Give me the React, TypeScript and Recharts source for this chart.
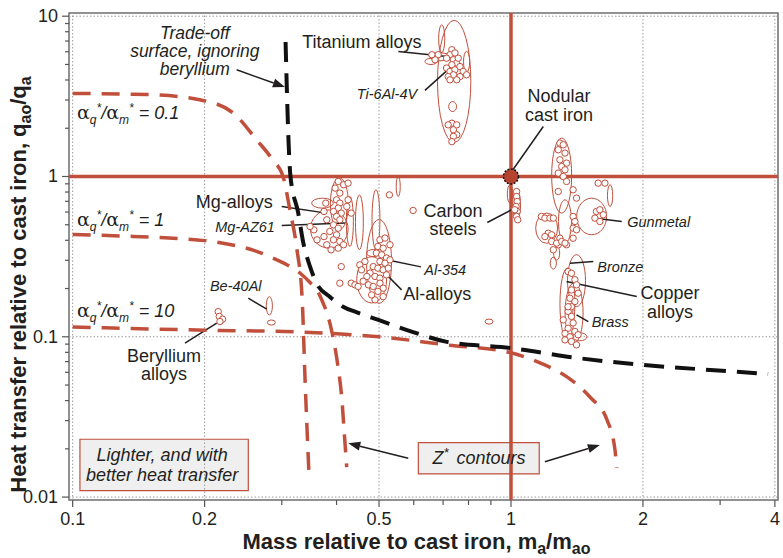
import React from "react";
import {
  ComposedChart,
  XAxis,
  YAxis,
  Scatter,
  ReferenceLine,
  ReferenceArea,
  ReferenceDot,
  Label,
} from "recharts";

const RED = "#c04f3b";
const INK = "#231f20";
const FONT = "'Liberation Sans', Arial, Helvetica, sans-serif";

const X_DOMAIN: [number, number] = [0.0981, 4.066];
const Y_DOMAIN: [number, number] = [0.00959, 10.47];

const xTicks = [0.1, 0.2, 0.3, 0.4, 0.5, 0.6, 0.7, 0.8, 0.9, 1, 2, 3, 4];
const xMajor = [0.1, 0.2, 0.5, 1, 2, 4];
const yTicks = [
  0.01, 0.02, 0.03, 0.04, 0.05, 0.06, 0.07, 0.08, 0.09, 0.1, 0.2, 0.3, 0.4, 0.5,
  0.6, 0.7, 0.8, 0.9, 1, 2, 3, 4, 5, 6, 7, 8, 9, 10,
];
const yMajor = [0.01, 0.1, 1, 10];

type Pt = [number, number];
// [mass m, heat transfer q, log half-width in m, log half-width in q]
type Bubble = [number, number, number, number];

// Z* contours for alpha_q*/alpha_m* = 0.1, 1, 10
const contour01: Pt[] = [
  [0.1, 3.3], [0.15, 3.24], [0.195, 3.01], [0.232, 2.5], [0.263, 1.69], [0.286, 1.27],
  [0.302, 1.0], [0.313, 0.62], [0.325, 0.348], [0.334, 0.17], [0.339, 0.054], [0.346, 0.0141],
];
const contour1: Pt[] = [
  [0.1, 0.434], [0.137, 0.423], [0.175, 0.41], [0.2, 0.398], [0.23, 0.375], [0.26, 0.345],
  [0.29, 0.305], [0.313, 0.275], [0.33, 0.25], [0.348, 0.218], [0.363, 0.19], [0.3725, 0.163],
  [0.3826, 0.134], [0.3907, 0.106], [0.4031, 0.065], [0.4116, 0.04], [0.4166, 0.025], [0.4219, 0.0154],
];
const contour10: Pt[] = [
  [0.1, 0.115], [0.2, 0.11], [0.33, 0.107], [0.5, 0.1], [0.714, 0.089], [1.0, 0.0795],
  [1.165, 0.0687], [1.342, 0.0562], [1.514, 0.0421], [1.656, 0.0303], [1.727, 0.0197], [1.742, 0.0152],
];
// trade-off surface ignoring beryllium
const tradeOff: Pt[] = [
  [0.306, 6.9], [0.308, 3.6], [0.311, 1.6], [0.314, 1.0], [0.327, 0.593], [0.336, 0.384],
  [0.348, 0.274], [0.36, 0.216], [0.386, 0.178], [0.414, 0.154], [0.445, 0.142], [0.5, 0.127],
  [0.598, 0.107], [0.714, 0.093], [1.0, 0.085], [1.415, 0.0738], [2.0, 0.0668], [2.85, 0.0621],
  [3.86, 0.0587],
];

const titaniumBubbles: Bubble[] = [
  [0.742, 3.92, 0.038, 0.381], [0.695, 7.24, 0.007, 0.087], [0.792, 5.2, 0.007, 0.065],
  [0.657, 5.22, 0.014, 0.019], [0.689, 5.58, 0.023, 0.025], [0.736, 2.73, 0.009, 0.031],
];
const titaniumPoints: Pt[] = [
  [0.733, 6.18], [0.726, 5.75], [0.713, 5.47], [0.739, 5.35], [0.752, 5.1], [0.733, 4.98],
  [0.713, 4.75], [0.726, 4.52], [0.745, 4.63], [0.765, 4.85], [0.778, 4.52], [0.792, 4.31],
  [0.765, 4.2], [0.739, 4.31], [0.719, 4.2], [0.682, 5.75], [0.671, 5.35], [0.66, 5.75],
  [0.758, 5.47], [0.745, 5.9], [0.726, 4.01], [0.752, 4.01], [0.733, 2.15], [0.752, 2.1],
  [0.739, 1.956], [0.752, 1.82], [0.739, 1.78], [0.733, 1.65], [0.719, 2.1],
];
const steelBubbles: Bubble[] = [
  [0.9945, 0.779, 0.006, 0.056], [1.03, 0.666, 0.009, 0.094],
];
const steelPoints: Pt[] = [
  [1.03, 0.806], [1.03, 0.75], [1.033, 0.698], [1.027, 0.65], [1.033, 0.605], [1.03, 0.563],
  [1.036, 0.537], [1.02, 0.62],
];
const copperBubbles: Bubble[] = [
  [1.305, 1.013, 0.0228, 0.234], [1.528, 0.563, 0.0342, 0.114], [1.206, 0.476, 0.025, 0.094],
  [1.328, 0.524, 0.015, 0.135], [1.683, 0.76, 0.006, 0.068], [1.411, 0.224, 0.0205, 0.162],
  [1.345, 0.16, 0.017, 0.225], [1.393, 0.141, 0.0205, 0.187], [1.249, 0.288, 0.007, 0.037],
  [1.271, 0.333, 0.007, 0.044], [1.436, 0.1, 0.016, 0.025], [1.363, 0.147, 0.007, 0.037],
];
const copperPoints: Pt[] = [
  [1.293, 1.616], [1.316, 1.577], [1.282, 1.468], [1.328, 1.4], [1.293, 1.271], [1.339, 1.212],
  [1.305, 1.154], [1.328, 1.101], [1.282, 1.05], [1.316, 1.0], [1.339, 0.931], [1.282, 0.806],
  [1.386, 0.826], [1.411, 0.733], [1.581, 0.909], [1.638, 0.909], [1.567, 0.605], [1.595, 0.62],
  [1.554, 0.55], [1.595, 0.524], [1.624, 0.577], [1.386, 0.563], [1.399, 0.524], [1.386, 0.476],
  [1.411, 0.465], [1.173, 0.563], [1.195, 0.55], [1.227, 0.55], [1.249, 0.55], [1.216, 0.443],
  [1.238, 0.433], [1.195, 0.422], [1.293, 0.412], [1.282, 0.375], [1.386, 0.412], [1.339, 0.375],
  [1.238, 0.393], [1.271, 0.384], [1.305, 0.393], [1.328, 0.384], [1.249, 0.349], [1.35, 0.255],
  [1.374, 0.249], [1.399, 0.227], [1.411, 0.211], [1.374, 0.196], [1.423, 0.187], [1.363, 0.174],
  [1.399, 0.166], [1.374, 0.154], [1.35, 0.144], [1.374, 0.134], [1.386, 0.122], [1.35, 0.113],
  [1.328, 0.105], [1.363, 0.1], [1.399, 0.108], [1.423, 0.103], [1.328, 0.0956], [1.374, 0.0935],
  [1.411, 0.089], [1.316, 0.1275], [1.35, 0.154],
];
const magnesiumBubbles: Bubble[] = [
  [0.3715, 0.682, 0.0247, 0.031], [0.385, 0.47, 0.043, 0.119], [0.406, 0.676, 0.0205, 0.162],
  [0.429, 0.524, 0.008, 0.156], [0.451, 0.518, 0.009, 0.17], [0.492, 0.537, 0.009, 0.187],
];
const magnesiumPoints: Pt[] = [
  [0.4036, 0.931], [0.415, 0.888], [0.425, 0.909], [0.397, 0.846], [0.407, 0.788], [0.4, 0.715],
  [0.407, 0.682], [0.4036, 0.635], [0.3935, 0.605], [0.41, 0.591], [0.4, 0.563], [0.407, 0.537],
  [0.38, 0.537], [0.3935, 0.4995], [0.4036, 0.476], [0.386, 0.454], [0.4, 0.4326], [0.3935, 0.4026],
  [0.407, 0.393], [0.415, 0.375], [0.3745, 0.422], [0.361, 0.4026], [0.355, 0.4648], [0.38, 0.375],
  [0.3886, 0.3486], [0.4036, 0.357], [0.378, 0.682], [0.3745, 0.605], [0.422, 0.65], [0.432, 0.591],
  [0.425, 0.715], [0.348, 0.4875],
];
const aluminiumBubbles: Bubble[] = [
  [0.5, 0.295, 0.0285, 0.262], [0.481, 0.2266, 0.034, 0.144], [0.485, 0.333, 0.015, 0.022],
  [0.553, 0.866, 0.0046, 0.062], [0.891, 0.1244, 0.009, 0.016],
];
const aluminiumPoints: Pt[] = [
  [0.5024, 0.4026], [0.516, 0.413], [0.497, 0.366], [0.511, 0.357], [0.5296, 0.375], [0.493, 0.333],
  [0.507, 0.3245], [0.52, 0.31], [0.5024, 0.295], [0.516, 0.288], [0.5296, 0.302], [0.485, 0.274],
  [0.497, 0.268], [0.511, 0.2616], [0.525, 0.268], [0.477, 0.2497], [0.4895, 0.238], [0.5024, 0.232],
  [0.52, 0.2434], [0.4643, 0.295], [0.452, 0.281], [0.456, 0.2616], [0.469, 0.238], [0.46, 0.222],
  [0.473, 0.2109], [0.485, 0.206], [0.5024, 0.216], [0.511, 0.201], [0.497, 0.192], [0.511, 0.178],
  [0.4895, 0.17], [0.481, 0.1826], [0.41, 0.274], [0.407, 0.216], [0.432, 0.216], [0.4406, 0.2109],
  [0.448, 0.206], [0.528, 0.768], [0.598, 0.614],
];
const berylliumBubbles: Bubble[] = [
  [0.281, 0.156, 0.007, 0.057], [0.284, 0.1227, 0.009, 0.016],
];
const berylliumPoints: Pt[] = [
  [0.2148, 0.1436], [0.216, 0.134], [0.2198, 0.1288], [0.2168, 0.1245],
];

const allBubbles = [
  ...titaniumBubbles, ...steelBubbles, ...copperBubbles,
  ...magnesiumBubbles, ...aluminiumBubbles, ...berylliumBubbles,
];
const allPoints = [
  ...titaniumPoints, ...steelPoints, ...copperPoints,
  ...magnesiumPoints, ...aluminiumPoints, ...berylliumPoints,
];

// leader lines [m1, q1, m2, q2]
const leaders: [number, number, number, number][] = [
  [0.5534, 6.03, 0.7322, 5.565],
  [0.6364, 3.443, 0.7322, 4.861],
  [1.185, 2.051, 1.0037, 1.075],
  [0.8829, 0.5163, 1.03, 0.644],
  [0.2999, 0.6497, 0.3798, 0.5909],
  [0.2999, 0.4944, 0.418, 0.5118],
  [0.5204, 0.302, 0.6233, 0.273],
  [0.507, 0.2616, 0.563, 0.1962],
  [1.541, 0.55, 1.789, 0.524],
  [1.363, 0.288, 1.541, 0.2947],
  [1.339, 0.2211, 1.936, 0.1782],
  [1.411, 0.137, 1.501, 0.1244],
  [0.1804, 0.0912, 0.2131, 0.1216],
  [0.2516, 0.1741, 0.2772, 0.1487],
];
const arrows: [number, number, number, number][] = [
  [0.2367, 4.634, 0.305, 3.614],
  [0.5829, 0.01747, 0.4254, 0.02167],
  [1.195, 0.01663, 1.595, 0.02114],
];
const boxes: [number, number, number, number][] = [
  [0.1039, 0.2516, 0.01096, 0.02295],
  [0.6146, 1.16, 0.01394, 0.02186],
];

type Note = {
  m: number;
  q: number;
  lines: string[];
  anchor: "start" | "middle" | "end";
  size: number;
  italic?: boolean;
  lh?: number;
};
const notes: Note[] = [
  { m: 0.457, q: 6.93, lines: ["Titanium alloys"], anchor: "middle", size: 18 },
  { m: 0.5213, q: 3.283, lines: ["Ti-6Al-4V"], anchor: "middle", size: 14.5, italic: true },
  { m: 1.287, q: 3.21, lines: ["Nodular", "cast iron"], anchor: "middle", size: 18, lh: 19 },
  { m: 0.7375, q: 0.615, lines: ["Carbon", "steels"], anchor: "middle", size: 18, lh: 18.5 },
  { m: 0.286, q: 0.695, lines: ["Mg-alloys"], anchor: "end", size: 18 },
  { m: 0.2893, q: 0.4874, lines: ["Mg-AZ61"], anchor: "end", size: 14.5, italic: true },
  { m: 0.634, q: 0.2616, lines: ["Al-354"], anchor: "start", size: 14.5, italic: true },
  { m: 0.5679, q: 0.1853, lines: ["Al-alloys"], anchor: "start", size: 18 },
  { m: 1.842, q: 0.5215, lines: ["Gunmetal"], anchor: "start", size: 14.5, italic: true },
  { m: 1.574, q: 0.273, lines: ["Bronze"], anchor: "start", size: 14.5, italic: true },
  { m: 2.306, q: 0.188, lines: ["Copper", "alloys"], anchor: "middle", size: 18, lh: 18.5 },
  { m: 1.528, q: 0.1239, lines: ["Brass"], anchor: "start", size: 14.5, italic: true },
  { m: 0.1616, q: 0.0766, lines: ["Beryllium", "alloys"], anchor: "middle", size: 18, lh: 18.5 },
  { m: 0.2057, q: 0.2064, lines: ["Be-40Al"], anchor: "start", size: 14.5, italic: true },
  {
    m: 0.19, q: 7.85, lines: ["Trade-off", "surface, ignoring", "beryllium"],
    anchor: "middle", size: 17.5, italic: true, lh: 18,
  },
  {
    m: 0.16, q: 0.01832, lines: ["Lighter, and with", "better heat transfer"],
    anchor: "middle", size: 18, italic: true, lh: 20,
  },
];
const ratioLabels: { value: string; m: number; q: number }[] = [
  { value: "0.1", m: 0.1023, q: 2.498 },
  { value: "1", m: 0.1023, q: 0.537 },
  { value: "10", m: 0.1023, q: 0.1451 },
];
const contourLabel = { m: 0.8453, q: 0.01754 };

const rows = (pts: Pt[]) => pts.map(([m, q]) => ({ m, q }));

const EllipseShape = (p: any) => (
  <ellipse
    cx={p.x + p.width / 2}
    cy={p.y + p.height / 2}
    rx={Math.abs(p.width) / 2}
    ry={Math.abs(p.height) / 2}
    fill="none"
    stroke={RED}
    strokeWidth={1}
  />
);

const SmallCircle = (p: any) => (
  <circle cx={p.cx} cy={p.cy} r={3.2} fill="#fff" stroke={RED} strokeWidth={1} />
);

const NoShape = () => <g />;

const ArrowShape = (p: any) => {
  const { x1, y1, x2, y2 } = p;
  const a = Math.atan2(y2 - y1, x2 - x1);
  const L = 12;
  const W = 4.5;
  const bx = x2 - L * Math.cos(a);
  const by = y2 - L * Math.sin(a);
  const pts = [
    [x2, y2],
    [bx + W * Math.sin(a), by - W * Math.cos(a)],
    [bx - W * Math.sin(a), by + W * Math.cos(a)],
  ]
    .map((v) => v.join(","))
    .join(" ");
  return (
    <g>
      <line x1={x1} y1={y1} x2={bx} y2={by} stroke={INK} strokeWidth={1.5} />
      <polygon points={pts} fill={INK} />
    </g>
  );
};

const NoteText = ({ cx, cy, n }: { cx: number; cy: number; n: Note }) => (
  <text
    x={cx}
    y={cy}
    textAnchor={n.anchor}
    fontSize={n.size}
    fontStyle={n.italic ? "italic" : "normal"}
    fill={INK}
    fontFamily={FONT}
  >
    {n.lines.map((l, i) => (
      <tspan key={i} x={cx} dy={i === 0 ? "0.35em" : n.lh}>
        {l}
      </tspan>
    ))}
  </text>
);

const RatioText = ({ cx, cy, value }: { cx: number; cy: number; value: string }) => (
  <text x={cx} y={cy + 6} fontSize={18} fontStyle="italic" fill={INK} fontFamily={FONT}>
    <tspan fontStyle="normal" fontFamily="'DejaVu Serif', serif" fontSize={19}>α</tspan>
    <tspan fontSize={12} dy={5}>q</tspan>
    <tspan fontSize={12} dy={-12}>*</tspan>
    <tspan dy={7}>/</tspan>
    <tspan fontStyle="normal" fontFamily="'DejaVu Serif', serif" fontSize={19}>α</tspan>
    <tspan fontSize={12} dy={5}>m</tspan>
    <tspan fontSize={12} dy={-12}>*</tspan>
    <tspan dx={5} dy={7}>{`= ${value}`}</tspan>
  </text>
);

const XTick = (p: any) => {
  const v = p.payload.value;
  const major = xMajor.includes(v);
  return (
    <g>
      <line x1={p.x} x2={p.x} y1={p.y} y2={p.y + (major ? 7 : 5)} stroke="#555" strokeWidth={1.2} />
      {major && (
        <text x={p.x} y={p.y + 25} textAnchor="middle" fontSize={18} fill={INK} fontFamily={FONT}>
          {String(v)}
        </text>
      )}
    </g>
  );
};

const YTick = (p: any) => {
  const v = p.payload.value;
  const major = yMajor.includes(v);
  return (
    <g>
      <line x1={p.x} x2={p.x - (major ? 7 : 4)} y1={p.y} y2={p.y} stroke="#555" strokeWidth={1.2} />
      {major && (
        <text x={p.x - 11} y={p.y + 6} textAnchor="end" fontSize={18} fill={INK} fontFamily={FONT}>
          {String(v)}
        </text>
      )}
    </g>
  );
};

const XTitle = (p: any) => {
  const vb = p.viewBox;
  return (
    <text
      x={vb.x + vb.width / 2 - 7}
      y={vb.y + 49}
      textAnchor="middle"
      fontSize={22}
      fontWeight="bold"
      fill={INK}
      fontFamily={FONT}
    >
      Mass relative to cast iron, m
      <tspan fontSize={16} dy={5}>a</tspan>
      <tspan dy={-5}>/m</tspan>
      <tspan fontSize={16} dy={5}>ao</tspan>
    </text>
  );
};

const YTitle = (p: any) => {
  const vb = p.viewBox;
  const x = vb.x + 26;
  const y = vb.y + vb.height / 2 + 28;
  return (
    <text
      x={x}
      y={y}
      transform={`rotate(-90 ${x} ${y})`}
      textAnchor="middle"
      fontSize={22}
      fontWeight="bold"
      fill={INK}
      fontFamily={FONT}
    >
      Heat transfer relative to cast iron, q
      <tspan fontSize={16} dy={5}>ao</tspan>
      <tspan dy={-5}>/q</tspan>
      <tspan fontSize={16} dy={5}>a</tspan>
    </text>
  );
};

const curveLine = (color: string, width: number, dash: string) => ({
  stroke: color,
  strokeWidth: width,
  strokeDasharray: dash,
  fill: "none",
});

export default function App() {
  return (
    <div style={{ position: "absolute", left: 0, top: 0, width: 783, height: 558, background: "#fff" }}>
      <ComposedChart
        width={783}
        height={558}
        margin={{ top: 13, right: 5, bottom: 0, left: 0 }}
        style={{ fontFamily: FONT }}
      >
        <XAxis
          dataKey="m"
          type="number"
          scale="log"
          domain={X_DOMAIN}
          allowDataOverflow
          ticks={xTicks}
          interval={0}
          height={58}
          tickSize={0}
          tickMargin={0}
          tickLine={false}
          axisLine={false}
          tick={<XTick />}
        >
          <Label content={<XTitle />} />
        </XAxis>
        <YAxis
          dataKey="q"
          type="number"
          scale="log"
          domain={Y_DOMAIN}
          allowDataOverflow
          ticks={yTicks}
          interval={0}
          width={69}
          tickSize={0}
          tickMargin={0}
          tickLine={false}
          axisLine={false}
          tick={<YTick />}
        >
          <Label content={<YTitle />} />
        </YAxis>

        {xMajor.map((v) => (
          <ReferenceLine key={`gx${v}`} x={v} stroke="#9a9a9a" strokeDasharray="1.5 2" strokeWidth={1} />
        ))}
        {yMajor.map((v) => (
          <ReferenceLine key={`gy${v}`} y={v} stroke="#9a9a9a" strokeDasharray="1.5 2" strokeWidth={1} />
        ))}
        <ReferenceArea
          x1={X_DOMAIN[0]}
          x2={X_DOMAIN[1]}
          y1={Y_DOMAIN[0]}
          y2={Y_DOMAIN[1]}
          fill="none"
          fillOpacity={0}
          stroke="#6d6e71"
          strokeWidth={1.5}
        />
        <ReferenceLine x={1} stroke={RED} strokeWidth={3.5} />
        <ReferenceLine y={1} stroke={RED} strokeWidth={3.5} />

        {allBubbles.map(([m, q, dm, dq], i) => (
          <ReferenceArea
            key={`b${i}`}
            x1={m / 10 ** dm}
            x2={m * 10 ** dm}
            y1={q / 10 ** dq}
            y2={q * 10 ** dq}
            shape={EllipseShape}
          />
        ))}
        <Scatter data={rows(allPoints)} dataKey="q" shape={SmallCircle} isAnimationActive={false} />

        <Scatter
          data={rows(contour01)}
          dataKey="q"
          shape={NoShape}
          line={curveLine(RED, 3.5, "18 11")}
          lineJointType="monotoneX"
          isAnimationActive={false}
        />
        <Scatter
          data={rows(contour1)}
          dataKey="q"
          shape={NoShape}
          line={curveLine(RED, 3.5, "18 11")}
          lineJointType="monotoneX"
          isAnimationActive={false}
        />
        <Scatter
          data={rows(contour10)}
          dataKey="q"
          shape={NoShape}
          line={curveLine(RED, 3.5, "18 11")}
          lineJointType="monotoneX"
          isAnimationActive={false}
        />
        <Scatter
          data={rows(tradeOff)}
          dataKey="q"
          shape={NoShape}
          line={curveLine("#111", 4, "20 11")}
          lineJointType="monotoneX"
          isAnimationActive={false}
        />

        <ReferenceDot
          x={1}
          y={1}
          r={7.5}
          fill="#b5432f"
          stroke="#111"
          strokeWidth={1.5}
          strokeDasharray="2 1.5"
        />

        {leaders.map(([m1, q1, m2, q2], i) => (
          <ReferenceLine
            key={`l${i}`}
            segment={[{ x: m1, y: q1 }, { x: m2, y: q2 }]}
            stroke={INK}
            strokeWidth={1.5}
          />
        ))}
        {arrows.map(([m1, q1, m2, q2], i) => (
          <ReferenceLine
            key={`a${i}`}
            segment={[{ x: m1, y: q1 }, { x: m2, y: q2 }]}
            shape={ArrowShape}
          />
        ))}
        {boxes.map(([m1, m2, q1, q2], i) => (
          <ReferenceArea
            key={`x${i}`}
            x1={m1}
            x2={m2}
            y1={q1}
            y2={q2}
            fill="#efefef"
            fillOpacity={1}
            stroke={RED}
            strokeWidth={1.2}
          />
        ))}

        {notes.map((n, i) => (
          <ReferenceDot
            key={`n${i}`}
            x={n.m}
            y={n.q}
            r={0}
            shape={(p: any) => <NoteText cx={p.cx} cy={p.cy} n={n} />}
          />
        ))}
        {ratioLabels.map((r) => (
          <ReferenceDot
            key={`r${r.value}`}
            x={r.m}
            y={r.q}
            r={0}
            shape={(p: any) => <RatioText cx={p.cx} cy={p.cy} value={r.value} />}
          />
        ))}
        <ReferenceDot
          x={contourLabel.m}
          y={contourLabel.q}
          r={0}
          shape={(p: any) => (
            <text
              x={p.cx}
              y={p.cy + 6}
              textAnchor="middle"
              fontSize={18}
              fontStyle="italic"
              fill={INK}
              fontFamily={FONT}
            >
              Z<tspan fontSize={13} dy={-7}>*</tspan>
              <tspan dx={8} dy={7}>contours</tspan>
            </text>
          )}
        />
      </ComposedChart>
    </div>
  );
}
